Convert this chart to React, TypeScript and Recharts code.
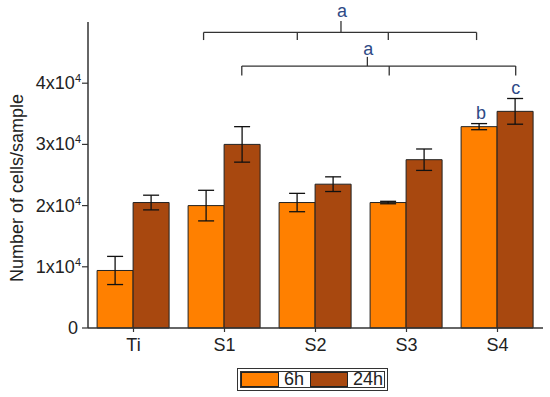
import React from 'react';
import {
  BarChart,
  Bar,
  XAxis,
  YAxis,
  ErrorBar,
  ReferenceLine,
  ReferenceDot,
} from 'recharts';

// cells per sample after 6h / 24h
const categories = ['Ti', 'S1', 'S2', 'S3', 'S4'];
const cells6h = [9400, 20000, 20500, 20500, 32900];
const cells24h = [20500, 30000, 23500, 27500, 35400];
const err6h = [2300, 2500, 1500, 200, 500];
const err24h = [1200, 2900, 1200, 1750, 2100];
const yTicks = [0, 10000, 20000, 30000, 40000];

// significance brackets, x in category units (0..5) on a hidden numeric axis
const bracketTop = { level: 48300, foot: 47050, legs: [1.27, 2.3, 3.3, 4.27], stem: 2.78, stemTop: 50150 };
const bracketLow = { level: 42800, foot: 41250, legs: [1.69, 3.31, 4.7], stem: 3.07, stemTop: 44300 };
const letters = [
  { text: 'a', x: 2.79, y: 51800 },
  { text: 'a', x: 3.08, y: 45700 },
  { text: 'b', x: 4.32, y: 35200 },
  { text: 'c', x: 4.7, y: 39300 },
];

const FONT = '"Liberation Sans", Arial, sans-serif';
const C6 = '#FF8000';
const C24 = '#A8480F';
const INK = '#222';

const data = categories.map((name, i) => ({
  name,
  slot: i + 0.5,
  h6: cells6h[i],
  h24: cells24h[i],
  e6: err6h[i],
  e24: err24h[i],
}));

// y tick as "Nx10^4"
function PowerTick({ x, y, payload }: { x?: number; y?: number; payload?: { value: number } }) {
  const v = payload ? payload.value : 0;
  if (v === 0) {
    return (
      <text x={(x ?? 0) - 3} y={y} dy={6} textAnchor="end" fontSize={18} fontFamily={FONT} fill={INK}>
        0
      </text>
    );
  }
  return (
    <text x={x} y={y} dy={6} textAnchor="end" fontSize={18} fontFamily={FONT} fill={INK}>
      {v / 10000}x10
      <tspan dy={-7} fontSize={11}>4</tspan>
    </text>
  );
}

function YLabel({ viewBox }: { viewBox?: { x: number; y: number; width: number; height: number } }) {
  if (!viewBox) return null;
  const x = viewBox.x + 15;
  const y = viewBox.y + viewBox.height / 2 + 13;
  return (
    <text x={x} y={y} transform={`rotate(-90, ${x}, ${y})`} textAnchor="middle" fontSize={18} fontFamily={FONT} fill={INK}>
      Number of cells/sample
    </text>
  );
}

function bracketLines(b: typeof bracketTop, key: string) {
  const lines = [
    <ReferenceLine
      key={`${key}-h`}
      xAxisId="num"
      ifOverflow="visible"
      segment={[{ x: b.legs[0], y: b.level }, { x: b.legs[b.legs.length - 1], y: b.level }]}
      stroke="#333"
      strokeWidth={1.3}
    />,
    <ReferenceLine
      key={`${key}-s`}
      xAxisId="num"
      ifOverflow="visible"
      segment={[{ x: b.stem, y: b.level }, { x: b.stem, y: b.stemTop }]}
      stroke="#333"
      strokeWidth={1.3}
    />,
  ];
  b.legs.forEach((lx, i) => {
    lines.push(
      <ReferenceLine
        key={`${key}-l${i}`}
        xAxisId="num"
        ifOverflow="visible"
        segment={[{ x: lx, y: b.level }, { x: lx, y: b.foot }]}
        stroke="#333"
        strokeWidth={1.3}
      />
    );
  });
  return lines;
}

export default function App() {
  return (
    <div style={{ position: 'absolute', left: 0, top: 0, width: 550, height: 397, background: '#fff' }}>
      <BarChart
        width={550}
        height={397}
        data={data}
        margin={{ top: 22, right: 7, bottom: 39, left: 8 }}
        barCategoryGap="10%"
        barGap={0}
      >
        <XAxis
          dataKey="name"
          height={30}
          interval={0}
          tickSize={4}
          tickMargin={6}
          tick={{ fontSize: 18, fill: INK, fontFamily: FONT }}
          axisLine={{ stroke: '#333', strokeWidth: 1.5 }}
          tickLine={{ stroke: '#333', strokeWidth: 1.2 }}
        />
        <XAxis xAxisId="num" dataKey="slot" type="number" domain={[0, 5]} hide allowDataOverflow />
        <YAxis
          domain={[0, 50000]}
          ticks={yTicks}
          width={80}
          tickSize={6}
          tickMargin={1}
          tick={<PowerTick />}
          axisLine={{ stroke: '#333', strokeWidth: 1.5 }}
          tickLine={{ stroke: '#333', strokeWidth: 1.2 }}
          label={<YLabel />}
        />
        <Bar dataKey="h6" fill={C6} stroke={INK} strokeWidth={1} isAnimationActive={false}>
          <ErrorBar dataKey="e6" width={8} stroke="#111" strokeWidth={1.3} />
        </Bar>
        <Bar dataKey="h24" fill={C24} stroke={INK} strokeWidth={1} isAnimationActive={false}>
          <ErrorBar dataKey="e24" width={8} stroke="#111" strokeWidth={1.3} />
        </Bar>
        {bracketLines(bracketTop, 'top')}
        {bracketLines(bracketLow, 'low')}
        {letters.map((l, i) => (
          <ReferenceDot
            key={`let${i}`}
            xAxisId="num"
            x={l.x}
            y={l.y}
            r={0}
            fill="none"
            stroke="none"
            ifOverflow="visible"
            label={{ value: l.text, position: 'center', fontSize: 18, fill: '#2E4A86', fontFamily: FONT }}
          />
        ))}
      </BarChart>
      <div
        style={{
          position: 'absolute',
          left: 237,
          top: 368,
          display: 'flex',
          alignItems: 'center',
          border: '4px double #333',
          padding: '0 1px 0 0',
          fontFamily: FONT,
          fontSize: 18,
          lineHeight: '15px',
          color: INK,
        }}
      >
        <span style={{ width: 36, height: 13, background: C6, border: `1px solid ${INK}` }} />
        <span style={{ marginLeft: 5 }}>6h</span>
        <span style={{ width: 36, height: 13, background: C24, border: `1px solid ${INK}`, marginLeft: 6 }} />
        <span style={{ marginLeft: 5 }}>24h</span>
      </div>
    </div>
  );
}
